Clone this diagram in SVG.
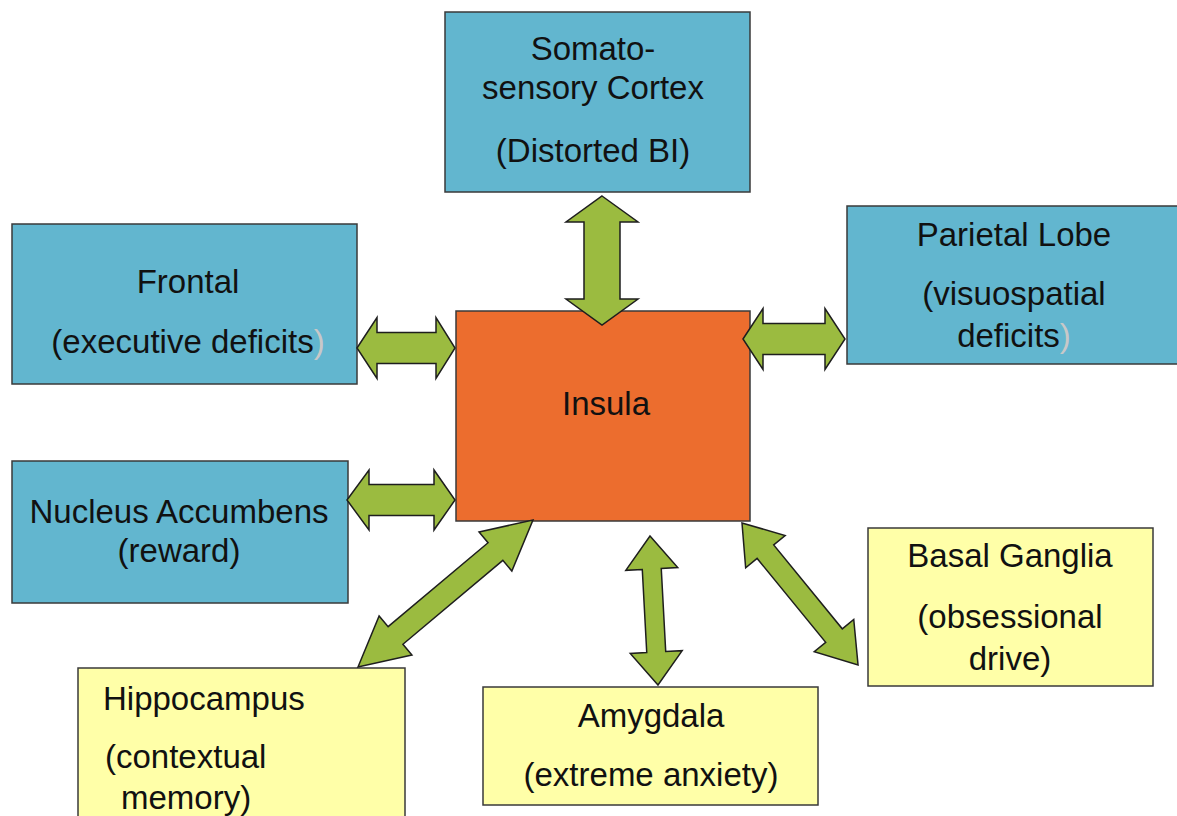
<svg xmlns="http://www.w3.org/2000/svg" width="1177" height="816" viewBox="0 0 1177 816">
  <style>
    .box { stroke: #3a3a3a; stroke-width: 1.5; }
    .blue { fill: #62b6cf; }
    .orange { fill: #ec6d2e; }
    .yellow { fill: #ffffa8; }
    .arrow { fill: #9bbb40; stroke: #1e1e1e; stroke-width: 1.5; stroke-linejoin: miter; }
    text { font-family: "Liberation Sans", Arial, sans-serif; font-size: 33px; fill: #111111; }
    .c { text-anchor: middle; }
    .faint { fill: #c8c8c8; }
  </style>

  <rect width="1177" height="816" fill="#ffffff"/>

  <!-- Central node -->
  <g id="insula">
    <rect class="box orange" x="456" y="311" width="294" height="210"/>
    <text class="c" x="606" y="415">Insula</text>
  </g>

  <!-- Cortical regions -->
  <g id="somatosensory">
    <rect class="box blue" x="445" y="12" width="305" height="180"/>
    <text class="c" x="593" y="60">Somato-</text>
    <text class="c" x="593" y="99">sensory Cortex</text>
    <text class="c" x="593" y="162">(Distorted BI)</text>
  </g>

  <g id="frontal">
    <rect class="box blue" x="12" y="224" width="345" height="160"/>
    <text class="c" x="188" y="293">Frontal</text>
    <text class="c" x="188" y="353">(executive deficits<tspan class="faint">)</tspan></text>
  </g>

  <g id="parietal">
    <rect class="box blue" x="847" y="206" width="340" height="158"/>
    <text class="c" x="1014" y="246">Parietal Lobe</text>
    <text class="c" x="1014" y="305">(visuospatial</text>
    <text class="c" x="1014" y="347">deficits<tspan class="faint">)</tspan></text>
  </g>

  <g id="nucleus-accumbens">
    <rect class="box blue" x="12" y="461" width="336" height="142"/>
    <text class="c" x="179" y="523">Nucleus Accumbens</text>
    <text class="c" x="179" y="562">(reward)</text>
  </g>

  <!-- Subcortical regions -->
  <g id="basal-ganglia">
    <rect class="box yellow" x="868" y="528" width="285" height="158"/>
    <text class="c" x="1010" y="567">Basal Ganglia</text>
    <text class="c" x="1010" y="628">(obsessional</text>
    <text class="c" x="1010" y="670">drive)</text>
  </g>

  <g id="amygdala">
    <rect class="box yellow" x="483" y="687" width="335" height="118"/>
    <text class="c" x="651" y="727">Amygdala</text>
    <text class="c" x="651" y="786">(extreme anxiety)</text>
  </g>

  <g id="hippocampus">
    <rect class="box yellow" x="78" y="668" width="327" height="170"/>
    <text x="103" y="710">Hippocampus</text>
    <text x="105" y="768">(contextual</text>
    <text x="121" y="809">memory)</text>
  </g>

  <!-- Two-headed block arrows linking each region with the insula -->
  <g id="connectors">
    <polygon class="arrow" points="602,196 638,222 620,222 620,299 638,299 602,325 566,299 584,299 584,222 566,222"/>
    <polygon class="arrow" points="357,348 377,317.5 377,332.5 436,332.5 436,317.5 455,348 436,378.5 436,363.5 377,363.5 377,378.5"/>
    <polygon class="arrow" points="347,500 369,470 369,484.5 434,484.5 434,470 455,500 434,530 434,515.5 369,515.5 369,530"/>
    <polygon class="arrow" points="743,339 763,308.5 763,323.5 825,323.5 825,308.5 845,339 825,369.5 825,354.5 763,354.5 763,369.5"/>
    <!-- hippocampus link, length 228.5 -->
    <polygon class="arrow" transform="translate(358,667) rotate(-40.03)" points="0,0 49,-25.5 49,-11.5 179.5,-11.5 179.5,-25.5 228.5,0 179.5,25.5 179.5,11.5 49,11.5 49,25.5"/>
    <!-- amygdala link, length 149.2 -->
    <polygon class="arrow" transform="translate(650,536) rotate(86.93)" points="0,0 33,-26 33,-9.5 116.2,-9.5 116.2,-26 149.2,0 116.2,26 116.2,9.5 33,9.5 33,26"/>
    <!-- basal ganglia link, length 183.4 -->
    <polygon class="arrow" transform="translate(742,523) rotate(50.75)" points="0,0 37,-25.5 37,-10.7 145.4,-10.7 145.4,-25.5 183.4,0 145.4,25.5 145.4,10.7 37,10.7 37,25.5"/>
  </g>
</svg>
